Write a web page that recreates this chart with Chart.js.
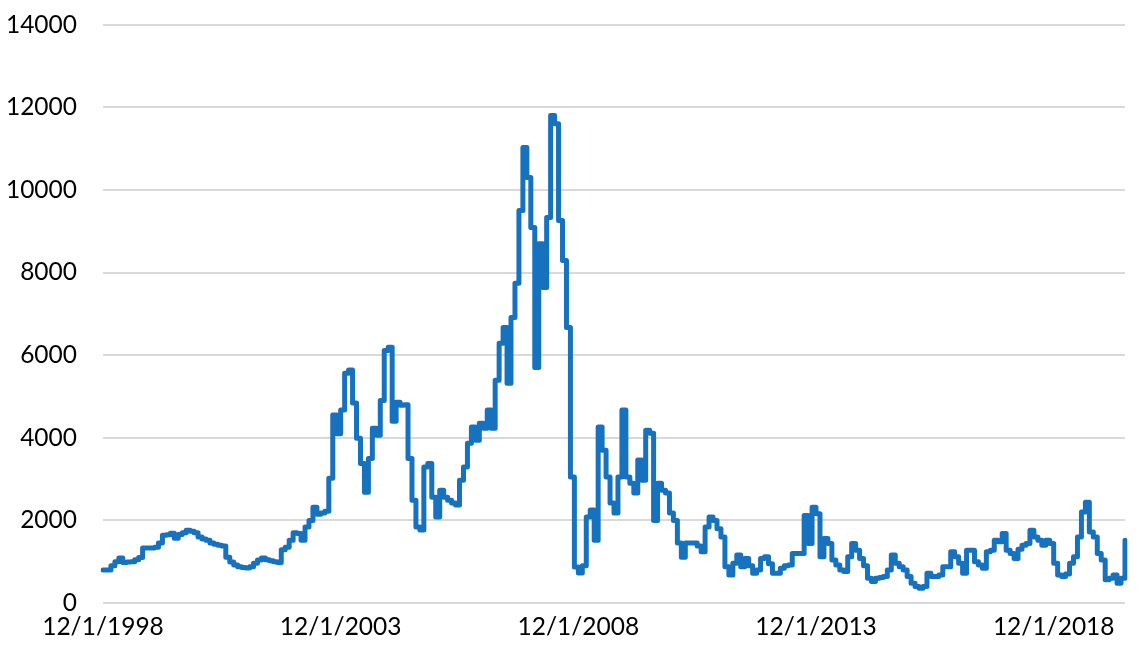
<!DOCTYPE html>
<html>
<head>
<meta charset="utf-8">
<script src="https://cdn.jsdelivr.net/npm/chart.js@4"></script>
<style>
  html, body { margin: 0; padding: 0; background: #fff; overflow: hidden; }
  #wrap { width: 1145px; height: 667px; overflow: hidden; }
  #chart { display: block; margin-top: -16px; }
</style>
</head>
<body>
<div id="wrap"><canvas id="chart" width="1145" height="683"></canvas></div>
<script>
// monthly values, Dec 1998 .. Jun 2020
const startYear = 1998, startMonth = 12;
const tickLabels = ['12/1/1998', '12/1/2003', '12/1/2008', '12/1/2013', '12/1/2018'];
const yTicks = [0, 2000, 4000, 6000, 8000, 10000, 12000, 14000];
const values = [
  800, 800, 900, 1000, 1090, 980, 990, 1000, 1050, 1100,
  1330, 1330, 1330, 1350, 1450, 1640, 1650, 1690, 1570, 1660,
  1700, 1760, 1740, 1700, 1600, 1550, 1520, 1450, 1420, 1400,
  1380, 1110, 990, 920, 880, 860, 850, 880, 960, 1040,
  1090, 1050, 1020, 1000, 980, 1290, 1350, 1520, 1700, 1680,
  1520, 1840, 2000, 2320, 2150, 2180, 2220, 3020, 4550, 4100,
  4670, 5560, 5640, 4840, 3990, 3380, 2680, 3500, 4230, 4060,
  4900, 6110, 6190, 4400, 4860, 4790, 4800, 3500, 2490, 1840,
  1765, 3290, 3380, 2560, 2080, 2730, 2560, 2490, 2420, 2370,
  2970, 3290, 3870, 4260, 3940, 4350, 4230, 4670, 4230, 5390,
  6290, 6670, 5320, 6910, 7740, 9500, 11030, 10300, 9090, 5700,
  8700, 7640, 9330, 11800, 11600, 9260, 8290, 6670, 3050, 870,
  725, 900, 2080, 2250, 1520, 4260, 3700, 3050, 2420, 2180,
  3050, 4670, 3050, 2900, 2660, 3460, 2970, 4180, 4110, 2000,
  2900, 2730, 2660, 2180, 2000, 1450, 1110, 1450, 1450, 1450,
  1380, 1240, 1840, 2080, 2000, 1800, 1600, 880, 680, 960,
  1160, 880, 1080, 900, 720, 800, 1080, 1120, 950, 720,
  720, 840, 900, 920, 1200, 1200, 1200, 2120, 1440, 2320,
  2160, 1120, 1560, 1440, 1040, 920, 800, 760, 1120, 1440,
  1280, 1080, 900, 600, 520, 600, 620, 640, 800, 1160,
  960, 880, 800, 640, 480, 400, 360, 400, 720, 640,
  640, 680, 880, 880, 1240, 1120, 960, 720, 1280, 1280,
  1000, 920, 840, 1240, 1280, 1520, 1480, 1680, 1280, 1200,
  1080, 1300, 1400, 1440, 1760, 1600, 1520, 1400, 1520, 1440,
  960, 680, 640, 700, 960, 1120, 1600, 2200, 2440, 1720,
  1600, 1200, 1040, 560, 600, 680, 480, 600, 1520
];

const labels = [];
for (let i = 0; i < values.length; i++) {
  const mm = (startMonth - 1 + i) % 12 + 1;
  const yy = startYear + Math.floor((startMonth - 1 + i) / 12);
  labels.push(mm + '/1/' + yy);
}

const FONT = 'Lato, "Open Sans", sans-serif';

new Chart(document.getElementById('chart'), {
  type: 'line',
  data: {
    labels,
    datasets: [{
      data: values,
      borderColor: '#1672be',
      borderWidth: 5,
      borderJoinStyle: 'round',
      borderCapStyle: 'round',
      stepped: true,
      pointRadius: 0,
      fill: false
    }]
  },
  options: {
    responsive: false,
    animation: false,
    layout: { padding: { top: 0, right: 20, left: 0, bottom: 0 } },
    plugins: {
      legend: { display: false },
      tooltip: { enabled: false }
    },
    scales: {
      x: {
        offset: false,
        grid: { display: false, drawTicks: false },
        border: { display: false },
        ticks: {
          autoSkip: false,
          maxRotation: 0,
          padding: 9,
          color: '#000',
          font: { family: FONT, size: 24.5 },
          callback: function (v, i) {
            const l = labels[i];
            return tickLabels.includes(l) ? l : '';
          }
        },
        afterFit: s => { s.height = 64; }
      },
      y: {
        min: 0,
        max: 14000,
        afterBuildTicks: s => { s.ticks = yTicks.map(v => ({ value: v })); },
        grid: { color: '#d9d9d9', lineWidth: 2, drawTicks: false },
        border: { display: false },
        ticks: {
          padding: 26,
          color: '#000',
          font: { family: FONT, size: 24.5 },
          callback: v => String(v)
        },
        afterFit: s => { s.width = 103; }
      }
    }
  }
});
</script>
</body>
</html>
